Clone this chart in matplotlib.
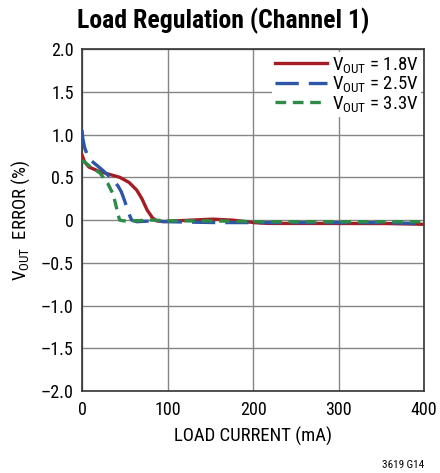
import numpy as np
import matplotlib
matplotlib.use("Agg")
from matplotlib import pyplot as plt

plt.rcParams['font.family'] = ['Roboto Condensed', 'DejaVu Sans']
plt.rcParams['mathtext.fontset'] = 'custom'
plt.rcParams['mathtext.rm'] = 'Roboto Condensed'
plt.rcParams['mathtext.it'] = 'Roboto Condensed'
plt.rcParams['mathtext.bf'] = 'Roboto Condensed:bold'

# load current (mA) and VOUT error (%)
x_18 = [0, 3, 8, 15, 21, 30, 44, 55, 64, 70, 76, 82, 87, 95, 110, 130, 153, 175, 200, 216, 250, 300, 350, 400]
y_18 = [0.76, 0.68, 0.62, 0.59, 0.565, 0.54, 0.50, 0.44, 0.35, 0.25, 0.12, 0.03, -0.01, -0.02, -0.01, 0.0, 0.01, 0.0, -0.03, -0.04, -0.04, -0.04, -0.04, -0.05]

x_25 = [0, 1, 3, 5.5, 10, 21, 30, 36, 42, 46, 49, 52, 55, 58, 64, 80, 100, 150, 200, 250, 300, 350, 390, 400]
y_25 = [1.05, 0.95, 0.85, 0.78, 0.70, 0.61, 0.53, 0.47, 0.40, 0.33, 0.25, 0.16, 0.07, 0.0, -0.02, -0.01, -0.02, -0.03, -0.03, -0.03, -0.03, -0.03, -0.04, -0.08]

x_33 = [0, 5, 10, 21, 30, 36, 38, 40, 42, 44, 48, 60, 80, 100, 150, 200, 250, 300, 350, 400]
y_33 = [0.70, 0.66, 0.62, 0.55, 0.43, 0.31, 0.24, 0.16, 0.07, 0.0, -0.01, -0.01, 0.0, -0.01, -0.01, -0.02, -0.02, -0.02, -0.02, -0.02]

xticks = [0, 100, 200, 300, 400]
yticks = [-2.0, -1.5, -1.0, -0.5, 0, 0.5, 1.0, 1.5, 2.0]
ylabels = ['\u20132.0', '\u20131.5', '\u20131.0', '\u20130.5', '0', '0.5', '1.0', '1.5', '2.0']


def smooth(xp, yp):
    xs = np.linspace(xp[0], xp[-1], 800)
    return xs, np.interp(xs, xp, yp)


fig = plt.figure(figsize=(4.4, 4.73), dpi=100)
ax = fig.add_axes([82 / 440, 1 - 391 / 473, 342 / 440, 342 / 473])

xs, ys = smooth(x_18, y_18)
ax.plot(xs, ys, color='#a51d23', lw=2.4, label=r'V$_{\mathrm{OUT}}$ = 1.8V', zorder=3)
xs, ys = smooth(x_25, y_25)
ax.plot(xs, ys, color='#2d56a8', lw=2.4, dashes=(7, 3), label=r'V$_{\mathrm{OUT}}$ = 2.5V', zorder=4)
xs, ys = smooth(x_33, y_33)
ax.plot(xs, ys, color='#2e8b47', lw=2.4, dashes=(3.2, 2), label=r'V$_{\mathrm{OUT}}$ = 3.3V', zorder=5)

ax.set_xlim(0, 400)
ax.set_ylim(-2, 2)
ax.set_xticks(xticks)
ax.set_yticks(yticks)
ax.set_yticklabels(ylabels)
ax.tick_params(axis='x', length=0, labelsize=13, pad=7)
ax.tick_params(axis='y', length=0, labelsize=13, pad=6)
ax.grid(color='#858585', lw=1.0)
for s in ax.spines.values():
    s.set_color('#333333')
    s.set_linewidth(1.2)

ax.set_xlabel('LOAD CURRENT (mA)', fontsize=13.5, labelpad=6)
ax.set_ylabel(r'V$_{\mathrm{OUT}}$  ERROR (%)', fontsize=13.5, labelpad=6)

leg = ax.legend(loc='upper right', fontsize=13.5, frameon=True, framealpha=1, edgecolor='none',
                handlelength=2.8, handletextpad=0.25, labelspacing=-0.02, borderaxespad=0.15,
                borderpad=0.15, fancybox=False)

fig.text(0.508, 0.955, 'Load Regulation (Channel 1)', fontsize=18.5, fontweight='bold',
         ha='center', va='center')
fig.text(0.963, 0.006, '3619 G14', fontsize=8, ha='right', va='bottom')

fig.savefig('out.png', dpi=100)
